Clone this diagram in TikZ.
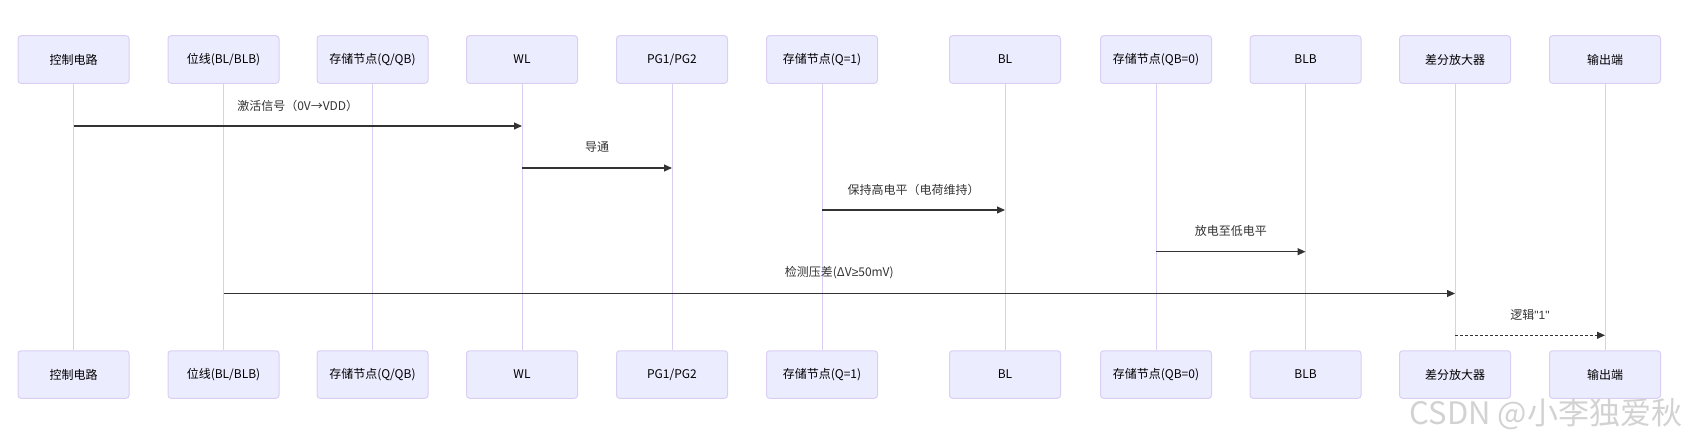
\documentclass[tikz,border=0pt]{standalone}
\usepackage{fontspec}
\setmainfont{Noto Sans CJK SC}
\newfontfamily\symfont{Liberation Sans}
\usetikzlibrary{arrows.meta}

\definecolor{actfill}{HTML}{ECECFF}
\definecolor{actline}{HTML}{DACEF3}
\definecolor{msgtext}{HTML}{333333}

\tikzset{
  actor/.style={rectangle, draw=actline, fill=actfill, line width=1pt, rounded corners=3pt,
    minimum width=111pt, minimum height=47.5pt, inner sep=0pt, font=\fontsize{12}{14}\selectfont},
  life/.style={actline, line width=1pt},
  msg/.style={draw=msgtext, line width=1.1pt, -{Triangle[length=8pt,width=7pt]}},
  msglabel/.style={text=msgtext, inner sep=0pt, font=\fontsize{12}{14}\selectfont},
}

\begin{document}
\begin{tikzpicture}[x=1pt,y=-1pt]
\useasboundingbox (0,0) rectangle (1694,444);
% participants (top and bottom) with lifelines
\foreach \x/\n/\t in {73.5/ctrl/{控制电路}, 223.5/bit/{位线(BL/BLB)}, 372.5/node/{存储节点(Q/QB)},
    522/wl/{WL}, 672/pg/{PG1/PG2}, 822/q/{存储节点(Q=1)}, 1005/bl/{BL},
    1156/qb/{存储节点(QB=0)}, 1305.5/blb/{BLB}, 1455/amp/{差分放大器}, 1605/out/{输出端}}{
  \node[actor] (top-\n) at (\x,59.5) {\t};
  \node[actor] (bot-\n) at (\x,374.5) {\t};
  \draw[life] (top-\n) -- (bot-\n);
}
% messages
\draw[msg] (top-ctrl |- 0,126) -- (top-wl |- 0,126)
  node[msglabel, midway, yshift=20.5pt] (m1) {激活信号（0V→VDD）};
\draw[msg] (top-wl |- 0,168) -- (top-pg |- 0,168)
  node[msglabel, midway, yshift=20.5pt] (m2) {导通};
\draw[msg] (top-q |- 0,210) -- (top-bl |- 0,210)
  node[msglabel, midway, yshift=20.5pt] (m3) {保持高电平（电荷维持）};
\draw[msg] (top-qb |- 0,251.7) -- (top-blb |- 0,251.7)
  node[msglabel, midway, yshift=20.5pt] (m4) {放电至低电平};
\draw[msg] (top-bit |- 0,293.5) -- (top-amp |- 0,293.5)
  node[msglabel, midway, yshift=20.5pt] (m5) {检测压差(ΔV{\symfont ≥}50mV)};
\draw[msg, dash pattern=on 3pt off 2pt] (top-amp |- 0,335.3) -- (top-out |- 0,335.3)
  node[msglabel, midway, yshift=20.5pt] (m6) {逻辑{\symfont\char34 1\char34}};
% watermark
\node[text=gray!35, inner sep=0pt, font=\fontsize{31}{34}\selectfont] (mark) at (1546,414) {CSDN @小李独爱秋};
\end{tikzpicture}
\end{document}
